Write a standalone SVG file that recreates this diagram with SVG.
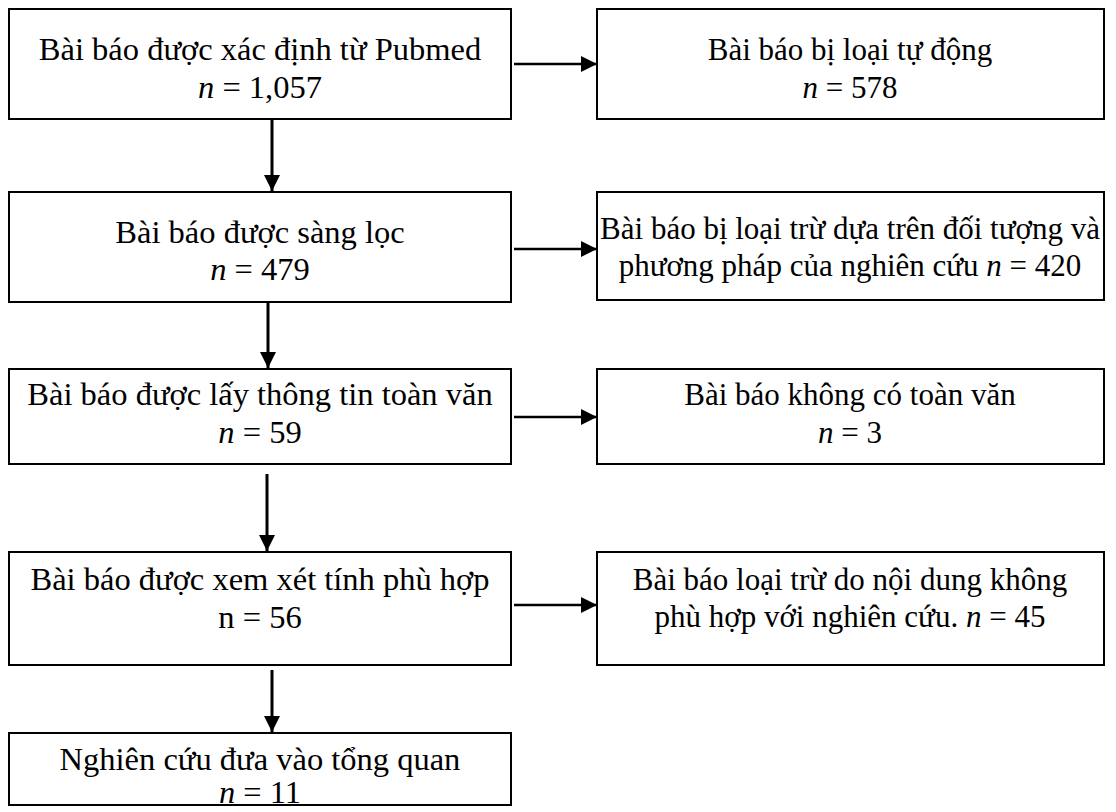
<svg xmlns="http://www.w3.org/2000/svg" width="1116" height="812" viewBox="0 0 1116 812">
<style>
.box{fill:#fff;stroke:#000;stroke-width:2}
.t{font-family:"Liberation Serif","Times New Roman",serif;font-size:32.5px;fill:#000;text-anchor:middle}
.r{font-size:31px}
.i{font-style:italic}
.v{stroke:#000;stroke-width:3;fill:none}
.h{stroke:#000;stroke-width:2.5;fill:none}
</style>
<defs>
<marker id="ah" markerUnits="userSpaceOnUse" markerWidth="16" markerHeight="16" viewBox="0 0 16 16" refX="16" refY="8" orient="auto">
<path d="M0,0 L16,8 L0,16 Z" fill="#000"/>
</marker>
</defs>
<rect width="1116" height="812" fill="#fff"/>
<g id="connectors">
<line class="v" x1="272" y1="119" x2="272" y2="191" marker-end="url(#ah)"/>
<line class="v" x1="268" y1="302" x2="268" y2="368" marker-end="url(#ah)"/>
<line class="v" x1="267" y1="474" x2="267" y2="551" marker-end="url(#ah)"/>
<line class="v" x1="272" y1="670" x2="272" y2="732" marker-end="url(#ah)"/>
<line class="h" x1="514" y1="64" x2="597" y2="64" marker-end="url(#ah)"/>
<line class="h" x1="514" y1="249" x2="597" y2="249" marker-end="url(#ah)"/>
<line class="h" x1="514" y1="417" x2="597" y2="417" marker-end="url(#ah)"/>
<line class="h" x1="514" y1="605" x2="597" y2="605" marker-end="url(#ah)"/>
</g>
<g id="n1">
<rect class="box" x="9" y="9" width="502" height="110"/>
<text class="t" x="260" y="60">Bài báo được xác định từ Pubmed</text>
<text class="t" x="260" y="98"><tspan class="i">n</tspan> = 1,057</text>
</g>
<g id="r1">
<rect class="box" x="597" y="9" width="507" height="110"/>
<text class="t r" x="850" y="60">Bài báo bị loại tự động</text>
<text class="t r" x="850" y="98"><tspan class="i">n</tspan> = 578</text>
</g>
<g id="n2">
<rect class="box" x="9" y="192" width="502" height="110"/>
<text class="t" x="260" y="243">Bài báo được sàng lọc</text>
<text class="t" x="260" y="280"><tspan class="i">n</tspan> = 479</text>
</g>
<g id="r2">
<rect class="box" x="597" y="192" width="507" height="108"/>
<text class="t r" x="850" y="239">Bài báo bị loại trừ dựa trên đối tượng và</text>
<text class="t r" x="850" y="276">phương pháp của nghiên cứu <tspan class="i">n</tspan> = 420</text>
</g>
<g id="n3">
<rect class="box" x="9" y="369" width="502" height="95"/>
<text class="t" x="260" y="405">Bài báo được lấy thông tin toàn văn</text>
<text class="t" x="260" y="443"><tspan class="i">n</tspan> = 59</text>
</g>
<g id="r3">
<rect class="box" x="597" y="369" width="507" height="95"/>
<text class="t r" x="850" y="405">Bài báo không có toàn văn</text>
<text class="t r" x="850" y="443"><tspan class="i">n</tspan> = 3</text>
</g>
<g id="n4">
<rect class="box" x="9" y="552" width="502" height="113"/>
<text class="t" x="260" y="590">Bài báo được xem xét tính phù hợp</text>
<text class="t" x="260" y="628">n = 56</text>
</g>
<g id="r4">
<rect class="box" x="597" y="552" width="507" height="113"/>
<text class="t r" x="850" y="590">Bài báo loại trừ do nội dung không</text>
<text class="t r" x="850" y="627">phù hợp với nghiên cứu. <tspan class="i">n</tspan> = 45</text>
</g>
<g id="n5">
<rect class="box" x="9" y="733" width="502" height="72"/>
<text class="t" x="260" y="770">Nghiên cứu đưa vào tổng quan</text>
<text class="t" x="260" y="803"><tspan class="i">n</tspan> = 11</text>
</g>
</svg>
